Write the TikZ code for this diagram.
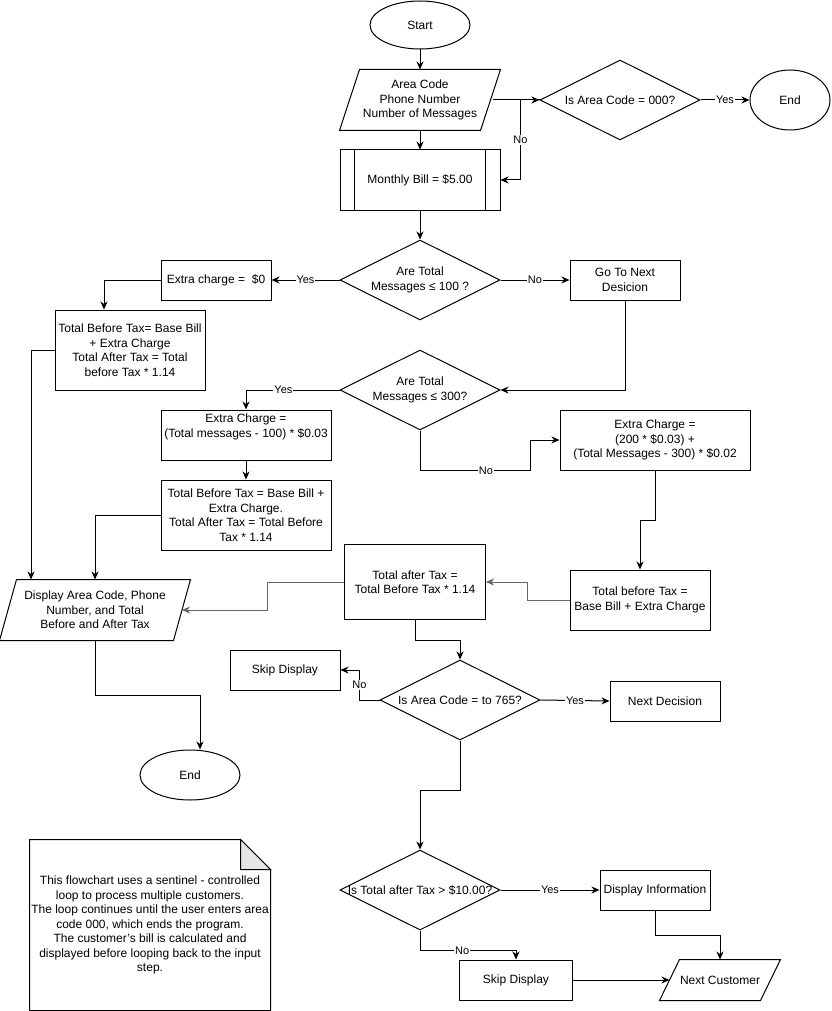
\documentclass[tikz,border=0pt]{standalone}
\usepackage{fontspec}
\setmainfont{Liberation Sans}
\usetikzlibrary{shapes.geometric,arrows.meta}

% parallelogram outline drawn over a plain (undrawn) node: #1 node, #2 slant
\newcommand\ioshape[2]{%
  \draw ([xshift=#2pt]#1.north west) -- (#1.north east)
        -- ([xshift=-#2pt]#1.south east) -- (#1.south west) -- cycle;}

\tikzset{
  every node/.style={font=\fontsize{12}{14.5}\selectfont, align=center, inner sep=0pt},
  box/.style={draw, rectangle},
  cond/.style={draw, diamond, aspect=2, minimum width=160pt, minimum height=80pt},
  term/.style={draw, ellipse},
  iobox/.style={rectangle},
  lbl/.style={font=\fontsize{11}{12}\selectfont, fill=white, inner sep=1pt},
  flow/.style={-{Stealth[length=8pt,width=7pt,inset=2.5pt]}},
  flowgray/.style={flow, draw=black!60},
}

\begin{document}
\begin{tikzpicture}[x=1pt, y=-1pt, line width=1pt]
\useasboundingbox (0,0) rectangle (831,1011);

% ---- input and sentinel test ----
\node[term, minimum width=100pt, minimum height=48pt] (start) at (420,25) {Start};
\node[iobox, minimum width=160pt, minimum height=60pt] (in) at (420,100)
  {Area Code\\Phone Number\\Number of Messages};
\ioshape{in}{20}
\node[cond] (d0) at (620,100) {\makebox[0pt]{Is Area Code = 000?}};
\node[term, minimum width=80pt, minimum height=60pt] (end1) at (790,100) {End};
\node[box, minimum width=160pt, minimum height=60pt] (mb) at (420,180) {Monthly Bill = \$5.00};
\draw ([xshift=15pt]mb.north west) -- ([xshift=15pt]mb.south west)
      ([xshift=-15pt]mb.north east) -- ([xshift=-15pt]mb.south east);

% ---- message tiers ----
\node[cond] (d1) at (420,280) {\makebox[0pt]{Are Total}\\\makebox[0pt]{Messages ≤ 100 ?}};
\node[box, minimum width=110pt, minimum height=40pt] (ec0) at (216,280) {Extra charge =\ \ \$0};
\node[box, minimum width=110pt, minimum height=40pt] (gn) at (625,280) {Go To Next\\Desicion};
\node[box, minimum width=150pt, minimum height=80pt] (tb1) at (130,350)
  {Total Before Tax= Base Bill\\+ Extra Charge\\Total After Tax = Total\\before Tax * 1.14};
\node[cond] (d2) at (420,390) {\makebox[0pt]{Are Total}\\\makebox[0pt]{Messages ≤ 300?}};
\node[box, minimum width=170pt, minimum height=50pt] (ec1) at (246,435)
  {Extra Charge =\\(Total messages - 100) * \$0.03\\\strut};
\node[box, minimum width=170pt, minimum height=70pt] (tb2) at (246,515)
  {Total Before Tax = Base Bill +\\Extra Charge.\\Total After Tax = Total Before\\Tax * 1.14};
\node[box, minimum width=190pt, minimum height=60pt] (ec2) at (655,440)
  {Extra Charge =\\(200 * \$0.03) +\\(Total Messages - 300) * \$0.02};
\node[box, minimum width=140pt, minimum height=60pt] (tbt) at (640,600)
  {Total before Tax =\\Base Bill + Extra Charge};
\node[box, minimum width=141pt, minimum height=75pt] (tat) at (415,582)
  {Total after Tax =\\Total Before Tax * 1.14};
\node[iobox, minimum width=190pt, minimum height=60pt] (disp) at (95,610)
  {Display Area Code, Phone\\Number, and Total\\Before and After Tax};
\ioshape{disp}{17}
\node[term, minimum width=100pt, minimum height=50pt] (end2) at (190,775) {End};

% ---- display decisions ----
\node[cond] (d3) at (460,700) {\makebox[0pt]{Is Area Code = to 765?}};
\node[box, minimum width=110pt, minimum height=40pt] (skip1) at (285,670) {Skip Display};
\node[box, minimum width=110pt, minimum height=40pt] (nd) at (665,701) {Next Decision};
\node[cond] (d4) at (420,890) {\makebox[0pt]{Is Total after Tax > \$10.00?}};
\node[box, minimum width=110pt, minimum height=40pt] (di) at (655,890) {Display Information};
\node[box, minimum width=113pt, minimum height=40pt] (skip2) at (516,980) {Skip Display};
\node[iobox, minimum width=120pt, minimum height=40pt] (nc) at (720,980) {Next Customer};
\ioshape{nc}{20}

% ---- note with folded corner ----
\node[minimum width=240pt, minimum height=170pt] (note) at (150,925)
  {This flowchart uses a sentinel - controlled\\loop to process multiple customers.\\The loop continues until the user enters area\\code 000, which ends the program.\\The customer's bill is calculated and\\displayed before looping back to the input\\step.};
\draw (note.north west) -- ([xshift=-30pt]note.north east) -- ([yshift=-30pt]note.north east)
      -- (note.south east) -- (note.south west) -- cycle;
\draw[fill=black!10] ([xshift=-30pt]note.north east) -- ([xshift=-30pt,yshift=-30pt]note.north east)
      -- ([yshift=-30pt]note.north east) -- cycle;

% ---- connectors ----
\draw[flow] (start.south) -- (in.north);
\draw[flow] ([xshift=-8pt]in.east) -- (d0.west);
\draw[flow] (d0.west) -- ++(-19,0) |- node[lbl, pos=0.25] {No} (mb.east);
\draw[flow] (d0.east) -- node[lbl] {Yes} (end1.west);
\draw[flow] (in.south) -- (mb.north);
\draw[flow] (mb.south) -- (d1.north);
\draw[flow] (d1.west) -- node[lbl] {Yes} (ec0.east);
\draw[flow] (d1.east) -- node[lbl] {No} (gn.west);
\draw[flow] (ec0.west) -| ([xshift=-26pt]tb1.north);
\draw[flow] (tb1.west) -| ([xshift=-64pt]disp.north);
\draw[flow] (gn.south) |- (d2.east);
\draw[flow] (d2.west) -| node[lbl, pos=0.3] {Yes} (ec1.north);
\draw[flow] (ec1.south) -- (tb2.north);
\draw[flow] (tb2.west) -| (disp.north);
\draw[flow] (d2.south) -- ++(0,40) -- node[lbl, pos=0.6] {No} ++(110,0) |- (ec2.west);
\draw[flow] (ec2.south) -- ++(0,50) -| (tbt.north);
\draw[flowgray] (tbt.west) -- ++(-42,0) |- (tat.east);
\draw[flowgray] (tat.west) -- ++(-77,0) |- ([xshift=-8.5pt]disp.east);
\draw[flow] (disp.south) -- ++(0,55) -| ([xshift=10pt]end2.north);
\draw[flow] (tat.south) -- ++(0,20) -| (d3.north);
\draw[flow] (d3.west) -- ++(-20,0) |- node[lbl, pos=0.25] {No} (skip1.east);
\draw[flow] (d3.east) -- node[lbl] {Yes} (nd.west);
\draw[flow] (d3.south) -- ++(0,50) -| (d4.north);
\draw[flow] (d4.east) -- node[lbl] {Yes} (di.west);
\draw[flow] (d4.south) -- ++(0,20) -| node[lbl, pos=0.22] {No} (skip2.north);
\draw[flow] (skip2.east) -- ([xshift=10pt]nc.west);
\draw[flow] (di.south) -- ++(0,25) -| (nc.north);
\end{tikzpicture}
\end{document}
